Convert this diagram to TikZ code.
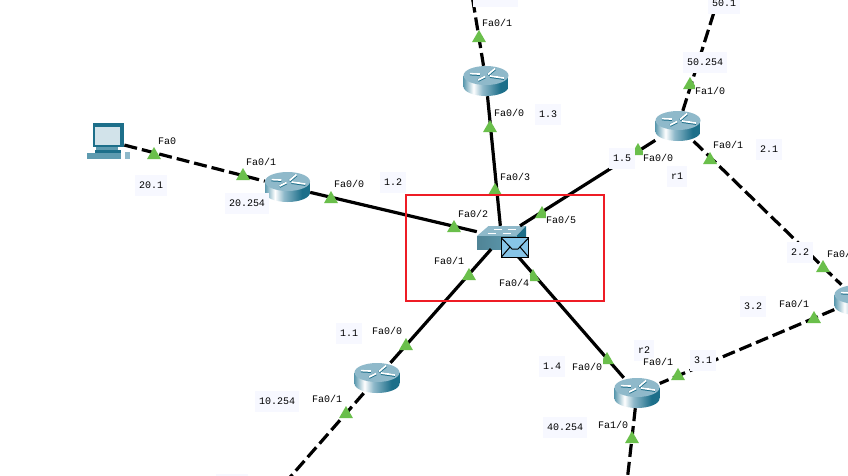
\documentclass[tikz,border=0pt]{standalone}
\usepackage{xcolor}
\usepackage{fontspec}
\setmonofont{Liberation Mono}
\usetikzlibrary{shapes.geometric}
\definecolor{lampgreen}{HTML}{6ABF4B}
\definecolor{boxtint}{HTML}{F7F8FF}
\definecolor{framered}{HTML}{EE1C25}
\definecolor{mailblue}{HTML}{87C5E8}
\definecolor{teal1}{HTML}{1D6F8A}
\definecolor{teal2}{HTML}{5E9BB0}
\definecolor{teal3}{HTML}{8FB9CA}
\pgfdeclarehorizontalshading{routerside}{100bp}{
	color(0bp)=(teal2); color(25bp)=(teal2); color(36bp)=(white);
	color(46bp)=(teal3); color(66bp)=(teal1); color(100bp)=(teal1)}
\newcommand{\routericon}{
	\shade[shading=routerside] (-22.5,-5.5) -- (-22.5,5.5) .. controls (-22.5,11) and (-12,15) .. (0,15) .. controls (12,15) and (22.5,11) .. (22.5,5.5) -- (22.5,-5.5) -- cycle;
	\fill[teal3] (0,-5.5) ellipse [x radius=22.5pt,y radius=9.5pt];
	\draw[teal1,line width=2.8pt] (-16,-7) -- (-6,-6.5) (2,-6) -- (9,-12) (-8,-0.5) -- (-1,-4) (4,-4.5) -- (18,-2.5);
	\draw[white,line width=1.8pt] (-16,-7.5) -- (-6,-7) (2,-6.5) -- (9,-12.5) (-8,-1) -- (-1,-4.5) (4,-5) -- (18,-3);
}
\newcommand{\switchicon}{
	\fill[teal3] (-24.5,-1.5) -- (-13,-11.5) -- (24.5,-11.5) -- (15,-1.5) -- cycle;
	\fill[teal1] (15,-1.5) -- (24.5,-11.5) -- (24.5,1) -- (15,11.5) -- cycle;
	\shade[left color=teal2!85!black,right color=teal2] (-24.5,-1.5) rectangle (15,11.5);
	\draw[white,line width=0.7pt] (-8,-8.5) -- (0,-8.5) (6,-8.5) -- (14,-8.5) (-14,-4.5) -- (-6,-4.5) (1,-4.5) -- (9,-4.5);
}
\newcommand{\pcicon}{
	% monitor
	\fill[teal1] (-15.5,-18) -- (15,-18) -- (15,6) -- (-15.5,6) -- cycle;
	\fill[teal3!40!white] (-13.5,-14.5) rectangle (11.5,4);
	\fill[teal2] (-13,6) rectangle (9,9);
	% base and keyboard
	\fill[teal1] (-14,9) -- (12,9) -- (12,12) -- (-14,12) -- cycle;
	\fill[teal2] (-21.5,12) -- (12,12) -- (12,18) -- (-21.5,18) -- cycle;
	\fill[teal3] (16,11) rectangle (21,18);
}
\tikzset{
	router/.style={rectangle,minimum width=45pt,minimum height=30pt,inner sep=0pt,
		path picture={\begin{scope}[shift={(path picture bounding box.center)}]\routericon\end{scope}}},
	switchbox/.style={rectangle,minimum width=49pt,minimum height=23pt,inner sep=0pt,
		path picture={\begin{scope}[shift={(path picture bounding box.center)}]\switchicon\end{scope}}},
	pcbox/.style={rectangle,minimum width=43pt,minimum height=36pt,inner sep=0pt,
		path picture={\begin{scope}[shift={(path picture bounding box.center)}]\pcicon\end{scope}}},
	mailbox/.style={rectangle,draw=black,line width=1.5pt,fill=mailblue,minimum width=27pt,minimum height=20pt,inner sep=0pt,
		path picture={\begin{scope}[shift={(path picture bounding box.center)}]
			\draw[line width=1pt] (-14,-10) -- (-3,1.5) -- (3,1.5) -- (14,-10) (-14,10) -- (-5,-0.5) (14,10) -- (5,-0.5);
		\end{scope}}},
	cable/.style={line width=3.2pt,black},
	serial/.style={cable,dash pattern=on 13pt off 5pt},
	lamp/.style={regular polygon,regular polygon sides=3,fill=lampgreen,minimum size=16pt,inner sep=0pt},
	port/.style={fill=white,inner xsep=0.5pt,inner ysep=0pt,minimum height=16pt,font=\fontsize{10}{12}\ttfamily},
	addr/.style={fill=boxtint,minimum height=21pt,inner xsep=4pt,inner ysep=0pt,font=\fontsize{10}{12}\ttfamily},
}

\begin{document}
\begin{tikzpicture}[x=1pt,y=-1pt]
	\useasboundingbox (0,0) rectangle (848,475);
	\fill[white] (0,0) rectangle (848,475);

	% devices
	\node[pcbox] (pc) at (108.5,141) {};
	\node[router] (rleft) at (287.5,187) {};
	\node[router] (rtop) at (486,81) {};
	\node[router] (r1) at (678,126) {};
	\node[router] (r2) at (637,393) {};
	\node[router] (rlow) at (377,378) {};
	\node[router] (rright) at (857,300) {};
	\node[switchbox] (sw) at (501.5,237.5) {};

	% free ends of the links
	\coordinate (topend) at (472,-5);
	\coordinate (upend) at (721,-10);
	\coordinate (downend) at (627,482);
	\coordinate (lowend) at (285,483);

	% links
	\draw[serial,shorten <=-6pt] (pc) -- (rleft);
	\draw[cable] (rleft) -- (sw);
	\draw[serial] (rtop) -- (topend);
	\draw[cable] (rtop) -- (sw);
	\draw[cable] (r1) -- (sw);
	\draw[serial] (r1) -- (upend);
	\draw[serial] (r1) -- (rright);
	\draw[serial] (rright) -- (r2);
	\draw[cable] (r2) -- (sw);
	\draw[serial] (r2) -- (downend);
	\draw[cable] (rlow) -- (sw);
	\draw[serial] (rlow) -- (lowend);

	% link lights
	\node[lamp] (l1) at (154,155) {};
	\node[lamp] (l2) at (243,176) {};
	\node[lamp] (l3) at (331,199) {};
	\node[lamp] (l4) at (454,228) {};
	\node[lamp] (l5) at (495,191) {};
	\node[lamp] (l6) at (490,128) {};
	\node[lamp] (l7) at (479,38) {};
	\node[lamp] (l8) at (542,214) {};
	\node[lamp] (l9) at (638,151) {};
	\node[lamp] (l10) at (690,85) {};
	\node[lamp] (l11) at (710,160) {};
	\node[lamp] (l12) at (823,268) {};
	\node[lamp] (l13) at (814,319) {};
	\node[lamp] (l14) at (678,376) {};
	\node[lamp] (l15) at (607,360) {};
	\node[lamp] (l16) at (632,439) {};
	\node[lamp] (l17) at (533,277) {};
	\node[lamp] (l18) at (469,276) {};
	\node[lamp] (l19) at (406,346) {};
	\node[lamp] (l20) at (346,414) {};

	% addresses
	\node[addr] (a1) at (151,185) {20.1};
	\node[addr] (a2) at (247,203) {20.254};
	\node[addr] (a3) at (393,182) {1.2};
	\node[addr] (a4) at (548,114) {1.3};
	\node[addr] (a5) at (622,158) {1.5};
	\node[addr] (a6) at (705,62) {50.254};
	\node[addr] (a7) at (724,3) {50.1};
	\node[addr] (a8) at (677,176) {r1};
	\node[addr] (a9) at (769,149) {2.1};
	\node[addr] (a10) at (800,252) {2.2};
	\node[addr] (a11) at (753,306) {3.2};
	\node[addr] (a12) at (703,360) {3.1};
	\node[addr] (a13) at (644,350) {r2};
	\node[addr] (a14) at (552,366) {1.4};
	\node[addr] (a15) at (565,427) {40.254};
	\node[addr] (a16) at (349,333) {1.1};
	\node[addr] (a17) at (277,401) {10.254};
	\node[addr,minimum width=45pt] (a18) at (495.5,-3.5) {};
	\node[addr,minimum width=32pt] (a19) at (232,484) {};

	% port names
	\node[port] (p1) at (167,141) {Fa0};
	\node[port] (p2) at (261,162) {Fa0/1};
	\node[port] (p3) at (349,184) {Fa0/0};
	\node[port] (p4) at (473,214) {Fa0/2};
	\node[port] (p5) at (515,177) {Fa0/3};
	\node[port] (p6) at (509,113) {Fa0/0};
	\node[port] (p7) at (497,23) {Fa0/1};
	\node[port] (p8) at (561,220) {Fa0/5};
	\node[port] (p9) at (658,158) {Fa0/0};
	\node[port] (p10) at (710,91) {Fa1/0};
	\node[port] (p11) at (728,145) {Fa0/1};
	\node[port] (p12) at (842,254) {Fa0/0};
	\node[port] (p13) at (794,304) {Fa0/1};
	\node[port,minimum height=9pt] (p14) at (658,362) {Fa0/1};
	\node[port] (p15) at (587,367) {Fa0/0};
	\node[port] (p16) at (613,425) {Fa1/0};
	\node[port] (p17) at (514,283) {Fa0/4};
	\node[port] (p18) at (449,261) {Fa0/1};
	\node[port] (p19) at (387,331) {Fa0/0};
	\node[port] (p20) at (327,399) {Fa0/1};

	% message and frame
	\node[mailbox] (mail) at (515,247.5) {};
	\node[draw=framered,line width=1.5pt,minimum width=198pt,minimum height=106pt,inner sep=0pt] (frame) at (505,248) {};
\end{tikzpicture}
\end{document}
